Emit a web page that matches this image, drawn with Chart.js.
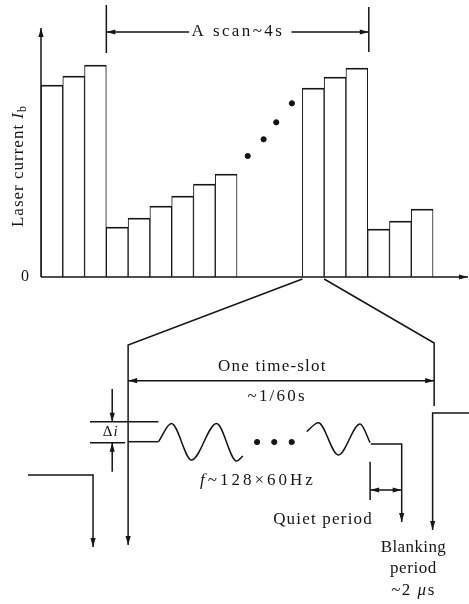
<!DOCTYPE html>
<html>
<head>
<meta charset="utf-8">
<script src="https://cdn.jsdelivr.net/npm/chart.js@4/dist/chart.umd.min.js"></script>
<style>
  html, body { margin: 0; padding: 0; background: #fff; }
  #wrap { width: 469px; height: 604px; position: relative; }
</style>
</head>
<body>
<div id="wrap"><canvas id="myChart"></canvas></div>
<script>
// x is in time-slots, y in current units (0 = base line of the scan plot)
// laser current per time-slot, null = slots hidden behind the dots
const slotHeights = [192, 201, 212, 50, 59, 71, 81, 93, 103, null, null, null, 189, 200, 209, 48, 56, 68];

// axes and the "A scan" span
const yAxisLine = [[0, 0], [0, 249]];
const xAxisLine = [[0, 0], [19.6, 0]];
const scanTickLeft = [[3, 272], [3, 224]];
const scanTickRight = [[15.05, 270], [15.05, 225]];
const scanArrowLeft = [[6.8, 245], [3, 245]];
const scanArrowRight = [[11.5, 245], [15.05, 245]];
const scanDots = [[9.49, 121], [10.22, 137.7], [10.8, 154.7], [11.52, 173.7]];

// blow-up of one time-slot
const zoomLeft = [[12, -2], [4, -68], [4, -268]];
const zoomRight = [[13, -2], [18.05, -66], [18.05, -129]];
const timeSlotSpan = [[4, -103.7], [18.05, -103.7]];
const prevSlot = [[-0.6, -198], [2.39, -198], [2.39, -270]];
const nextSlot = [[19.7, -136], [17.98, -136], [17.98, -253]];
const refTop = [[2.25, -144.7], [5.39, -144.7]];
const refBase = [[2.25, -165.7], [3.86, -165.7]];
const deltaTop = [[3.27, -112], [3.27, -144.7]];
const deltaBottom = [[3.27, -194.7], [3.27, -165.7]];
const slotBase = [[4, -164.7], [5.39, -164.7]];
const waveStart = [[5.39, -164.7], [5.99, -146.5], [6.91, -183], [8.06, -146.5], [8.98, -184], [9.27, -179]];
const waveEnd = [[12.2, -154.7], [12.73, -145.7], [13.65, -178], [14.65, -147], [15.11, -165.7]];
const waveDots = [[9.92, -165], [10.71, -165], [11.51, -165]];
const quietTail = [[15.14, -167], [16.56, -167], [16.56, -245]];
const quietTick = [[15.11, -184.7], [15.11, -223]];
const quietSpan = [[15.11, -213], [16.56, -213]];

const ink = '#151515';
const serif = '"Liberation Serif", "DejaVu Serif", serif';

const pts = arr => arr.map(p => ({x: p[0], y: p[1]}));

function line(arr, arrow, smooth) {
    return {
        type: 'line',
        data: pts(arr),
        borderColor: ink,
        borderWidth: 1.5,
        pointRadius: 0,
        fill: false,
        cubicInterpolationMode: smooth ? 'monotone' : 'default',
        tension: 0,
        clip: false,
        arrow: arrow,
        order: 0
    };
}

function dots(arr) {
    return {
        type: 'scatter',
        data: pts(arr),
        backgroundColor: ink,
        borderColor: ink,
        pointRadius: 2.6,
        clip: false,
        order: 0
    };
}

// text notes, placed in chart units
const notes = [
    {runs: [['0', '']], at: [-0.73, 0], size: 16, gap: 0},
    {runs: [['A scan~4s', '']], at: [9.04, 245], gap: 2.4},
    {runs: [['One time-slot', '']], at: [10.62, -89.7], gap: 1.2},
    {runs: [['~1/60s', '']], at: [10.84, -119.7], gap: 2.2},
    {runs: [['Δ', ''], ['i', 'i']], at: [3.2, -155.5], size: 15, gap: 1},
    {runs: [['f', 'i'], ['~128×60Hz', '']], at: [9.96, -203.7], gap: 3},
    {runs: [['Quiet period', '']], at: [12.95, -242.3], gap: 1.2},
    {runs: [['Blanking', '']], at: [17.1, -271], gap: 0.4},
    {runs: [['period', '']], at: [17.1, -292], gap: 0.6},
    {runs: [['~2 ', ''], ['μ', 'i'], ['s', '']], at: [17.1, -314], gap: 1.5}
];
const yTitle = {runs: [['Laser current ', ''], ['I', 'i'], ['b', 's']], at: [-1.05, 111]};

function drawRuns(ctx, runs, cx, cy, size) {
    const fontFor = st => (st === 'i' ? 'italic ' : '') + (st === 's' ? Math.round(size * 0.72) : size) + 'px ' + serif;
    let total = 0;
    runs.forEach(r => { ctx.font = fontFor(r[1]); total += ctx.measureText(r[0]).width; });
    let x = cx - total / 2;
    runs.forEach(r => {
        ctx.font = fontFor(r[1]);
        ctx.fillText(r[0], x, r[1] === 's' ? cy + size * 0.3 : cy);
        x += ctx.measureText(r[0]).width;
    });
}

function arrowHead(ctx, from, to) {
    const a = Math.atan2(to.y - from.y, to.x - from.x);
    ctx.save();
    ctx.translate(to.x, to.y);
    ctx.rotate(a);
    ctx.beginPath();
    ctx.moveTo(0, 0);
    ctx.lineTo(-9, -2.6);
    ctx.lineTo(-9, 2.6);
    ctx.closePath();
    ctx.fillStyle = ink;
    ctx.fill();
    ctx.restore();
}

const arrowHeads = {
    id: 'arrowHeads',
    afterDatasetsDraw(chart) {
        const ctx = chart.ctx;
        chart.data.datasets.forEach((ds, i) => {
            if (!ds.arrow) return;
            const p = chart.getDatasetMeta(i).data;
            const n = p.length;
            if (ds.arrow === 'end' || ds.arrow === 'both') arrowHead(ctx, p[n - 2], p[n - 1]);
            if (ds.arrow === 'start' || ds.arrow === 'both') arrowHead(ctx, p[1], p[0]);
        });
    }
};

const noteText = {
    id: 'noteText',
    afterDraw(chart) {
        const ctx = chart.ctx;
        const xs = chart.scales.x, ys = chart.scales.y;
        ctx.save();
        ctx.fillStyle = ink;
        ctx.textBaseline = 'middle';
        ctx.textAlign = 'left';
        notes.forEach(n => {
            ctx.letterSpacing = n.gap + 'px';
            drawRuns(ctx, n.runs, xs.getPixelForValue(n.at[0]), ys.getPixelForValue(n.at[1]), n.size || 17);
        });
        // rotated y axis title
        ctx.letterSpacing = '1px';
        ctx.translate(xs.getPixelForValue(yTitle.at[0]), ys.getPixelForValue(yTitle.at[1]));
        ctx.rotate(-Math.PI / 2);
        drawRuns(ctx, yTitle.runs, 0, 0, 17);
        ctx.restore();
    }
};

const barData = slotHeights.map((h, i) => ({x: i + 0.5, y: h}));

const ctx = document.getElementById('myChart').getContext('2d');

const config = {
    type: 'line',
    data: {
        datasets: [
            line(yAxisLine, 'end'),
            line(xAxisLine, 'end'),
            line(scanTickLeft),
            line(scanTickRight),
            line(scanArrowLeft, 'end'),
            line(scanArrowRight, 'end'),
            dots(scanDots),
            line(zoomLeft, 'end'),
            line(zoomRight),
            line(timeSlotSpan, 'both'),
            line(prevSlot, 'end'),
            line(nextSlot, 'end'),
            line(refTop),
            line(refBase),
            line(deltaTop, 'end'),
            line(deltaBottom, 'end'),
            line(slotBase),
            line(waveStart, null, true),
            line(waveEnd, null, true),
            dots(waveDots),
            line(quietTail, 'end'),
            line(quietTick),
            line(quietSpan, 'both'),
            {
                type: 'bar',
                label: 'Laser current',
                data: barData,
                backgroundColor: '#fff',
                borderColor: ink,
                borderWidth: {top: 1.8, left: 1, right: 1, bottom: 0},
                borderSkipped: 'start',
                barPercentage: 1,
                categoryPercentage: 1,
                order: 2
            }
        ]
    },
    options: {
        responsive: true,
        maintainAspectRatio: false,
        animation: false,
        events: [],
        layout: {padding: 0, autoPadding: false},
        plugins: {legend: {display: false}, tooltip: {enabled: false}},
        scales: {
            x: {type: 'linear', min: -1.882, max: 19.65, display: false, offset: false},
            y: {type: 'linear', min: -327, max: 277, display: false}
        }
    },
    plugins: [arrowHeads, noteText]
};

const myChart = new Chart(ctx, config);
</script>
</body>
</html>
